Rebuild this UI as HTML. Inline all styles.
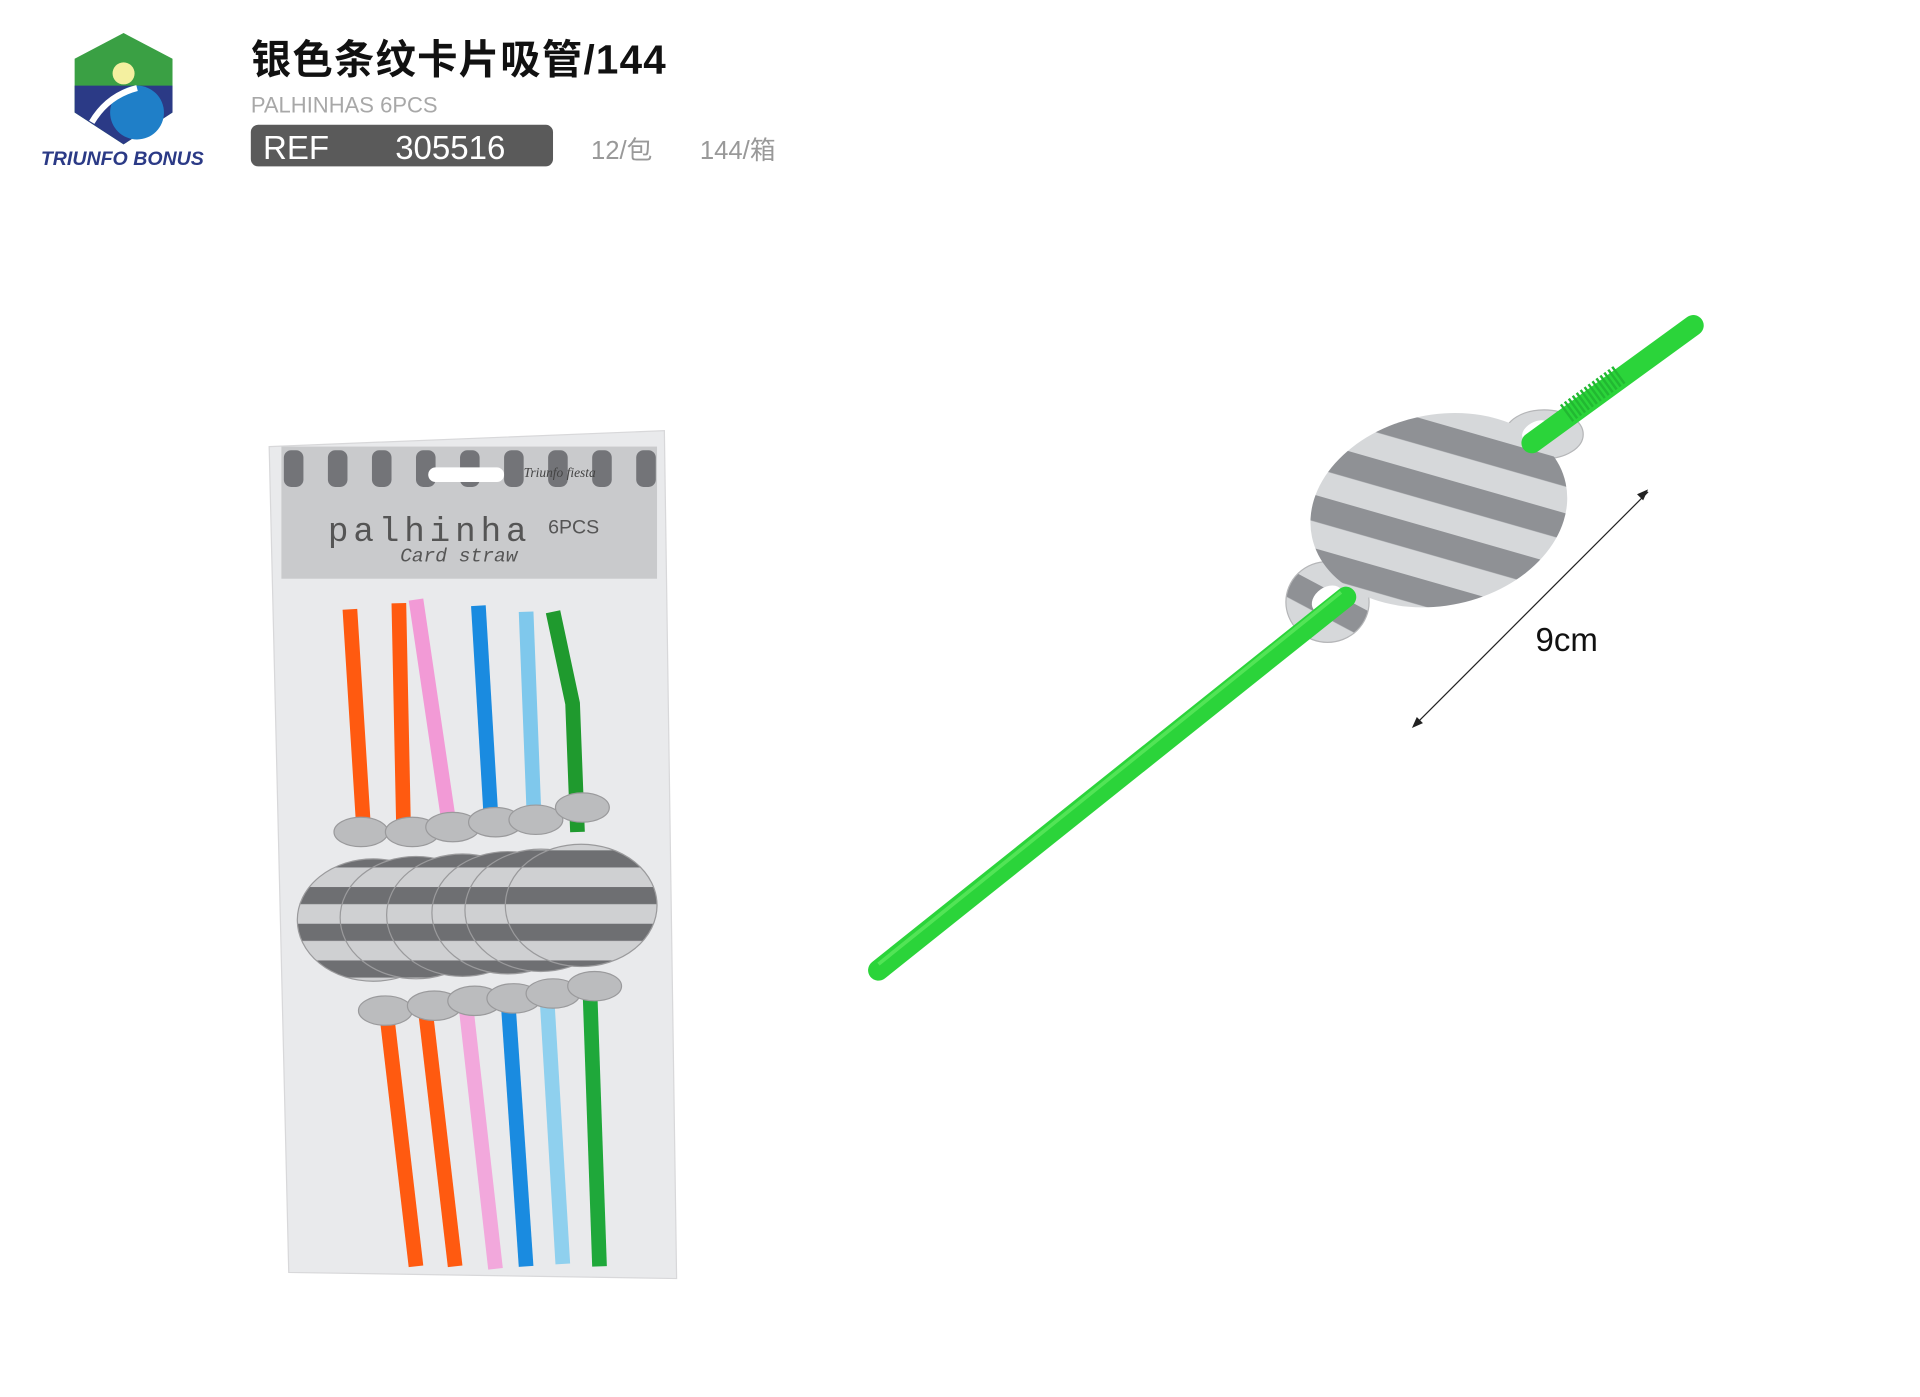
<!DOCTYPE html>
<html><head><meta charset="utf-8"><style>
html,body{margin:0;padding:0;background:#fff;width:1920px;height:1397px;overflow:hidden}
svg{display:block}
</style></head><body>
<svg width="1920" height="1397" viewBox="0 0 1920 1397" xmlns="http://www.w3.org/2000/svg">
<defs>
<pattern id="hs" width="40" height="30" patternUnits="userSpaceOnUse" y="5"><rect width="40" height="30" fill="#cfd0d2"/><rect y="0" width="40" height="14" fill="#6e6f72"/></pattern>
<pattern id="ds" width="40" height="42" patternUnits="userSpaceOnUse" patternTransform="rotate(28)"><rect width="40" height="42" fill="#d6d8da"/><rect width="40" height="21" fill="#8f9195"/></pattern>
</defs>
<g transform="scale(1.2235)">
<!-- logo -->
<polygon points="101,27 141,48 141,92 101,118 61,92 61,48" fill="#3aa044"/>
<polygon points="61,70 141,70 141,92 101,118 61,92" fill="#2b3a86"/>
<circle cx="112" cy="92" r="22" fill="#1f7fc8"/>
<path d="M75,100 Q88,78 112,72" stroke="#fff" stroke-width="5" fill="none"/>
<circle cx="101" cy="60" r="9" fill="#f4f0a0"/>
<text x="100" y="135" font-family="Liberation Sans, sans-serif" font-weight="bold" font-style="italic" font-size="16" fill="#2b3a86" text-anchor="middle">TRIUNFO BONUS</text>
<!-- header text -->
<text x="205" y="60" font-family="Liberation Sans, 'Noto Sans CJK SC', sans-serif" font-weight="bold" font-size="33" letter-spacing="1" fill="#111">银色条纹卡片吸管/144</text>
<text x="205" y="92" font-family="Liberation Sans, sans-serif" font-size="18" fill="#a8a8a8">PALHINHAS 6PCS</text>
<rect x="205" y="102" width="247" height="34" rx="6" fill="#5a5a5a"/>
<text x="215" y="130" font-family="Liberation Sans, sans-serif" font-size="27" fill="#fff">REF</text>
<text x="323" y="130" font-family="Liberation Sans, sans-serif" font-size="27" fill="#fff">305516</text>
<text x="483" y="130" font-family="Liberation Sans, 'Noto Sans CJK SC', sans-serif" font-size="21" fill="#999">12/包</text>
<text x="572" y="130" font-family="Liberation Sans, 'Noto Sans CJK SC', sans-serif" font-size="21" fill="#999">144/箱</text>
<!-- bag -->
<polygon points="220,365 543,352 553,1045 236,1040" fill="#e9eaec" stroke="#d8d8da"/>
<rect x="230" y="365" width="307" height="108" fill="#c9cacc"/>
<g fill="#737478"><rect x="232" y="368" width="16" height="30" rx="6"/><rect x="268" y="368" width="16" height="30" rx="6"/><rect x="304" y="368" width="16" height="30" rx="6"/><rect x="340" y="368" width="16" height="30" rx="6"/><rect x="376" y="368" width="16" height="30" rx="6"/><rect x="412" y="368" width="16" height="30" rx="6"/><rect x="448" y="368" width="16" height="30" rx="6"/><rect x="484" y="368" width="16" height="30" rx="6"/><rect x="520" y="368" width="16" height="30" rx="6"/></g>
<rect x="350" y="382" width="62" height="12" rx="6" fill="#fff"/>
<text x="428" y="390" font-family="Liberation Serif, serif" font-style="italic" font-size="11" fill="#444">Triunfo fiesta</text>
<text x="268" y="442" font-family="Liberation Mono, monospace" font-size="28" fill="#555" letter-spacing="4">palhinha</text>
<text x="448" y="436" font-family="Liberation Sans, sans-serif" font-size="16" fill="#555">6PCS</text>
<text x="327" y="459" font-family="Liberation Mono, monospace" font-style="italic" font-size="16" fill="#555">Card straw</text>
<g stroke-linecap="butt" stroke-width="12" fill="none">
<line x1="286" y1="498" x2="298" y2="690" stroke="#ff5a10"/>
<line x1="326" y1="493" x2="330" y2="685" stroke="#ff5a10"/>
<line x1="340" y1="490" x2="368" y2="680" stroke="#f29ad6"/>
<line x1="391" y1="495" x2="402" y2="680" stroke="#1a8be0"/>
<line x1="430" y1="500" x2="437" y2="680" stroke="#7fc8ec"/>
<polyline points="452,500 468,575 472,680" stroke="#1f9a2e"/>
<line x1="315" y1="820" x2="340" y2="1035" stroke="#ff5a10"/>
<line x1="347" y1="820" x2="372" y2="1035" stroke="#ff5a10"/>
<line x1="380" y1="815" x2="405" y2="1037" stroke="#f2a8dc"/>
<line x1="415" y1="815" x2="430" y2="1035" stroke="#1a8be0"/>
<line x1="447" y1="815" x2="460" y2="1033" stroke="#8fd0ee"/>
<line x1="482" y1="805" x2="490" y2="1035" stroke="#1fa83a"/>
</g>
<g stroke="#9a9a9c" stroke-width="1">
<ellipse cx="295" cy="680" rx="22" ry="12" fill="#bbbcbe"/><ellipse cx="337" cy="680" rx="22" ry="12" fill="#bbbcbe"/><ellipse cx="370" cy="676" rx="22" ry="12" fill="#bbbcbe"/><ellipse cx="405" cy="672" rx="22" ry="12" fill="#bbbcbe"/><ellipse cx="438" cy="670" rx="22" ry="12" fill="#bbbcbe"/><ellipse cx="476" cy="660" rx="22" ry="12" fill="#bbbcbe"/>
<ellipse cx="315" cy="826" rx="22" ry="12" fill="#bbbcbe"/><ellipse cx="355" cy="822" rx="22" ry="12" fill="#bbbcbe"/><ellipse cx="388" cy="818" rx="22" ry="12" fill="#bbbcbe"/><ellipse cx="420" cy="816" rx="22" ry="12" fill="#bbbcbe"/><ellipse cx="452" cy="812" rx="22" ry="12" fill="#bbbcbe"/><ellipse cx="486" cy="806" rx="22" ry="12" fill="#bbbcbe"/>
<ellipse cx="305" cy="752" rx="62" ry="50" fill="url(#hs)"/>
<ellipse cx="340" cy="750" rx="62" ry="50" fill="url(#hs)"/>
<ellipse cx="378" cy="748" rx="62" ry="50" fill="url(#hs)"/>
<ellipse cx="415" cy="746" rx="62" ry="50" fill="url(#hs)"/>
<ellipse cx="442" cy="744" rx="62" ry="50" fill="url(#hs)"/>
<ellipse cx="475" cy="740" rx="62" ry="50" fill="url(#hs)"/>
</g>
<!-- big card -->
<ellipse cx="1262" cy="355" rx="32" ry="20" fill="#d6d8da" stroke="#b5b6b8"/>
<ellipse cx="1085" cy="492" rx="34" ry="33" fill="url(#ds)" stroke="#b5b6b8"/>
<ellipse cx="1176" cy="417" rx="106" ry="78" fill="url(#ds)" transform="rotate(-12 1176 417)"/>
<ellipse cx="1085" cy="490" rx="14" ry="10" fill="#fff" transform="rotate(-35 1085 490)"/>
<ellipse cx="1255" cy="352" rx="12" ry="7" fill="#fff" transform="rotate(-30 1255 352)"/>
<!-- straw segments -->
<line x1="718" y1="793" x2="1100" y2="488" stroke="#2bd43a" stroke-width="17" stroke-linecap="round"/>
<line x1="718" y1="788" x2="1096" y2="484" stroke="#6cf06a" stroke-width="3" opacity="0.6"/>
<line x1="1252" y1="362" x2="1384" y2="266" stroke="#2bd43a" stroke-width="17" stroke-linecap="round"/>
<line x1="1280" y1="338" x2="1325" y2="305" stroke="#22b832" stroke-width="17" stroke-dasharray="2 2"/>
<!-- dimension -->
<line x1="1157" y1="592" x2="1347" y2="402" stroke="#222" stroke-width="1"/>
<polygon points="1347,400 1338,404 1343,409" fill="#222"/>
<polygon points="1154,595 1163,591 1158,586" fill="#222"/>
<text x="1255" y="532" font-family="Liberation Sans, sans-serif" font-size="27" fill="#111">9cm</text>
</g>
</svg>
</body></html>
